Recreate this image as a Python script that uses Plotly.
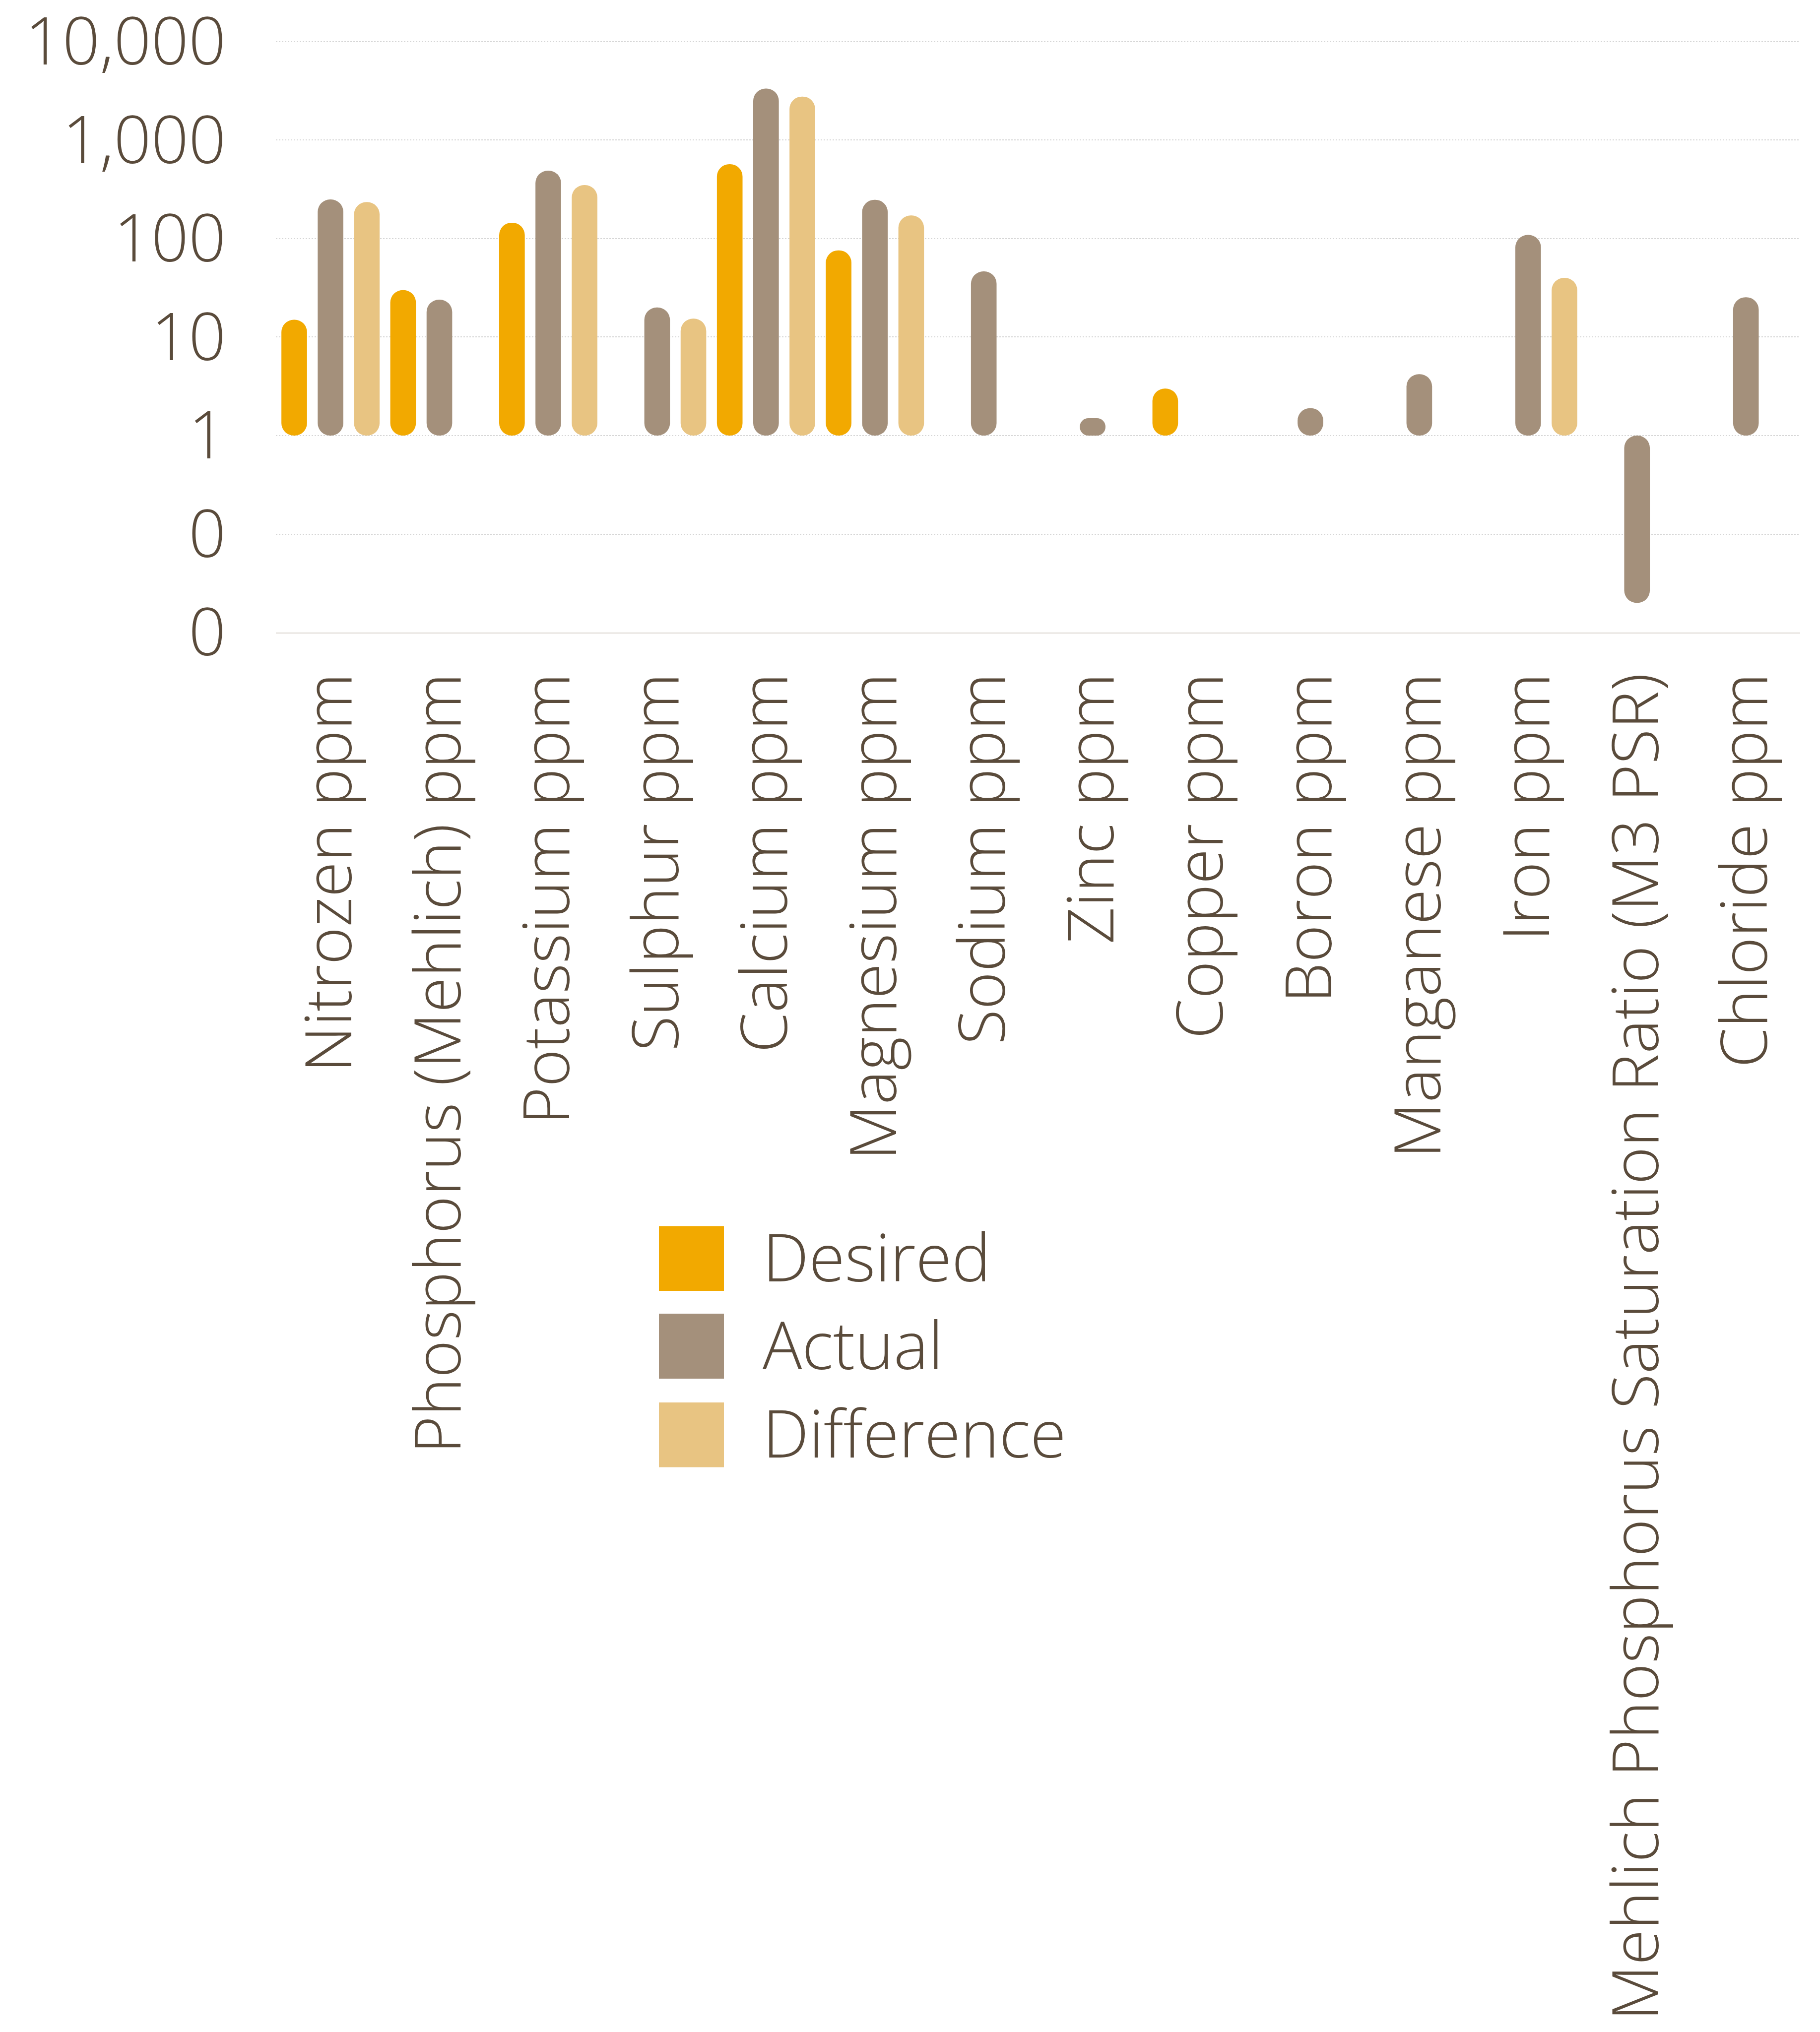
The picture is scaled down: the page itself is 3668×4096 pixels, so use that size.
import plotly.graph_objects as go

# ---- data -------------------------------------------------------------
categories = [
    "Nitrozen ppm",
    "Phosphorus (Mehlich) ppm",
    "Potassium ppm",
    "Sulphur ppm",
    "Calcium ppm",
    "Magnesium ppm",
    "Sodium ppm",
    "Zinc ppm",
    "Copper ppm",
    "Boron ppm",
    "Manganese ppm",
    "Iron ppm",
    "Mehlich Phosphorus Saturation Ratio (M3 PSR)",
    "Chloride ppm",
]
desired = [15, 30, 145, None, 570, 76, None, None, 3, None, None, None, None, None]
actual = [250, 24, 490, 20, 3340, 248, 46.5, 1.5, None, 1.9, 4.2, 109, 0.02, 25.4]
difference = [235, None, 350, 15.4, 2770, 172, None, None, None, None, None, 40, None, None]

series_names = ["Desired", "Actual", "Difference"]
series_values = [desired, actual, difference]
series_colors = ["#F2A900", "#A4907B", "#E8C482"]

y_tickvals = [0.01, 0.1, 1, 10, 100, 1000, 10000]
y_ticktext = ["0", "0", "1", "10", "100", "1,000", "10,000"]

# ---- layout constants (pixels) ---------------------------------------
FIG_W, FIG_H = 3668, 4096
PLOT_LEFT, PLOT_RIGHT = 556.4, 3628.4
# a little headroom above 10,000 so its grid line is kept
PLOT_TOP, PLOT_BOTTOM = 81.6, 1275.0
Y_RANGE = [-2, 4.012]
TEXT_COLOR = "#5A4B3B"
FONT = "Open Sans"
FONT_SIZE = 132
CAT_FONT_SIZE = 130
BASELINE = 1.0  # bars float from 1 on the log axis


def px_x(x):
    return x / FIG_W


def px_y(y):
    return 1 - y / FIG_H


text_font = dict(family=FONT, size=FONT_SIZE, color=TEXT_COLOR, weight=300)
cat_font = dict(family=FONT, size=CAT_FONT_SIZE, color=TEXT_COLOR, weight=300)

fig = go.Figure()

# Floating bars from the baseline to each value, rounded at both ends
for name, values, color in zip(series_names, series_values, series_colors):
    lengths = [v - BASELINE if v is not None else None for v in values]
    bases = [BASELINE if v is not None else None for v in values]
    fig.add_trace(
        go.Bar(
            name=name,
            x=categories,
            y=lengths,
            base=bases,
            offsetgroup=name,
            showlegend=False,
            marker=dict(color=color, cornerradius="50%", line=dict(width=0)),
            customdata=values,
            hovertemplate="%{x}<br>" + name + ": %{customdata}<extra></extra>",
        )
    )

# Legend swatches and labels
legend_rows = [(2471.5, 2602.0), (2648.0, 2779.0), (2827.0, 2957.5)]
shapes = []
annotations = []
for (y0, y1), name, color in zip(legend_rows, series_names, series_colors):
    shapes.append(
        dict(
            type="rect",
            xref="paper",
            yref="paper",
            x0=px_x(1328),
            x1=px_x(1459),
            y0=px_y(y1),
            y1=px_y(y0),
            fillcolor=color,
            line=dict(width=0),
            layer="above",
        )
    )
    annotations.append(
        dict(
            text=name,
            xref="paper",
            yref="paper",
            x=px_x(1535),
            y=px_y((y0 + y1) / 2 - 5),
            xanchor="left",
            yanchor="middle",
            showarrow=False,
            font=text_font,
        )
    )

fig.update_layout(
    template="none",
    width=FIG_W,
    height=FIG_H,
    margin=dict(l=0, r=0, t=0, b=0, autoexpand=False),
    paper_bgcolor="white",
    plot_bgcolor="white",
    font=text_font,
    barmode="group",
    bargap=0,
    bargroupgap=0.294,
    showlegend=False,
    shapes=shapes,
    annotations=annotations,
    xaxis=dict(
        domain=[px_x(PLOT_LEFT), px_x(PLOT_RIGHT)],
        type="category",
        automargin=False,
        tickangle=-90,
        ticks="",
        showgrid=False,
        showline=True,
        linecolor="#DCD7D1",
        linewidth=2,
        zeroline=False,
        ticklabelstandoff=28,
        ticklabeloverflow="allow",
        tickfont=cat_font,
    ),
    yaxis=dict(
        domain=[px_y(PLOT_BOTTOM), px_y(PLOT_TOP)],
        type="log",
        range=Y_RANGE,
        automargin=False,
        tickmode="array",
        tickvals=y_tickvals,
        ticktext=y_ticktext,
        ticks="",
        showline=False,
        zeroline=False,
        showgrid=True,
        gridcolor="#D6D6D6",
        gridwidth=2,
        griddash="dot",
        ticklabelstandoff=100,
        ticklabeloverflow="allow",
        tickfont=text_font,
    ),
)

fig.write_html("out.html")
